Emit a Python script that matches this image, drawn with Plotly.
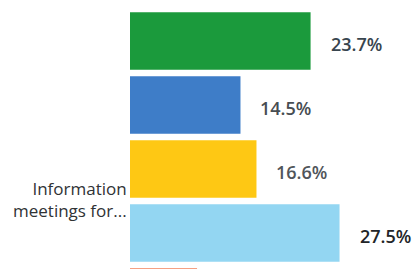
import plotly.graph_objects as go

categories = ["Cat A", "Cat B", "Cat C", "Information meetings for...", "Cat E"]
values = [23.7, 14.5, 16.6, 27.5, 8.8]
value_labels = ["23.7%", "14.5%", "16.6%", "27.5%", "8.8%"]
colors = ["#1b9a3c", "#3e7dc8", "#fec814", "#93d6f2", "#f2805a"]
label_colors = ["#38454e", "#474d52", "#50555a", "#222528", "#333333"]
axis_label = "Information<br>meetings for..."

fig = go.Figure()
fig.add_trace(go.Bar(
    x=values,
    y=categories,
    orientation="h",
    marker=dict(color=colors, line=dict(width=0)),
    width=0.9,
    hoverinfo="skip",
))

for cat, v, lab, c in zip(categories, values, value_labels, label_colors):
    fig.add_annotation(
        x=v, y=cat, xref="x", yref="y",
        text=lab, showarrow=False,
        xanchor="left", yanchor="middle",
        xshift=18, yshift=-3,
        font=dict(family="Open Sans", size=18, color=c, weight=600),
    )

fig.add_annotation(
    x=0, y=2.5, xref="x", yref="y",
    text=axis_label, showarrow=False,
    xanchor="right", yanchor="middle", align="right",
    xshift=-1, yshift=2,
    font=dict(family="Open Sans", size=17, color="#2f3235"),
)

fig.update_layout(
    width=412, height=261,
    margin=dict(l=122, r=0, t=0, b=0),
    paper_bgcolor="white", plot_bgcolor="white",
    showlegend=False,
    xaxis=dict(range=[0, 38.06], visible=False, fixedrange=True),
    yaxis=dict(range=[3.5625, -0.5156], showticklabels=False, showgrid=False,
               zeroline=False, showline=False, ticks="", fixedrange=True),
)

fig.write_html("out.html", config={"displayModeBar": False})
